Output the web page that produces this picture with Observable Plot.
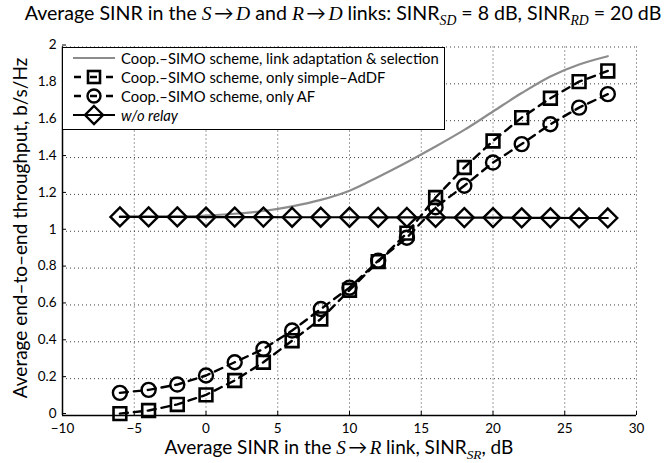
<!DOCTYPE html>
<html><head><meta charset="utf-8">
<script src="https://cdn.jsdelivr.net/npm/d3@7"></script>
<script src="https://cdn.jsdelivr.net/npm/@observablehq/plot@0.6"></script>
<style>
body{margin:0;background:#fff;}
#wrap{position:relative;width:672px;height:463px;font-family:Lato,"Noto Sans",sans-serif;color:#000;overflow:hidden;}
#wrap > svg{position:absolute;left:0;top:0;}
.ttl{position:absolute;left:0;width:672px;top:1px;text-align:center;font-size:19.6px;white-space:nowrap;padding-left:14px;box-sizing:border-box;}
.xl{position:absolute;left:0;width:678px;top:438px;text-align:center;font-size:19px;line-height:18px;white-space:nowrap;}
.m{font-family:"Liberation Serif",serif;font-style:italic;}
sub{font-size:70%;vertical-align:-0.35em;line-height:0;}
.leg{position:absolute;left:62px;top:47px;width:383px;height:83px;border:1px solid #000;background:#fff;box-sizing:border-box;font-size:14.8px;padding-top:1px;}
.row{display:flex;align-items:center;height:18.8px;}
.row svg{margin-left:8px;margin-right:4px;}
</style></head><body><div id="wrap"></div>
<script>
const snr = [-6,-4,-2,0,2,4,6,8,10,12,14,16,18,20,22,24,26,28];
const adaptive = [1.08,1.08,1.08,1.085,1.095,1.11,1.135,1.17,1.22,1.295,1.375,1.46,1.55,1.65,1.75,1.84,1.905,1.95];
const addf = [0.01,0.027,0.06,0.112,0.19,0.289,0.406,0.524,0.68,0.835,0.99,1.183,1.346,1.49,1.617,1.722,1.812,1.87];
const af = [0.123,0.139,0.168,0.217,0.289,0.361,0.461,0.578,0.694,0.84,0.965,1.13,1.247,1.373,1.473,1.581,1.671,1.744];
const noRelay = [1.078,1.078,1.078,1.077,1.077,1.077,1.076,1.076,1.076,1.075,1.075,1.075,1.074,1.074,1.073,1.073,1.072,1.072];
const xTicks = [-10,-5,0,5,10,15,20,25,30];
const yTicks = [0,0.2,0.4,0.6,0.8,1,1.2,1.4,1.6,1.8,2];
const legendLabels = ["Coop.\u2013SIMO scheme, link adaptation & selection","Coop.\u2013SIMO scheme, only simple\u2013AdDF","Coop.\u2013SIMO scheme, only AF","w/o relay"];
const yLabel = "Average end\u2013to\u2013end throughput, b/s/Hz";

const rows = ys => snr.map((x,i)=>({x, y: ys[i]}));
const dashed = "8,6";
const plot = Plot.plot({
  width: 672, height: 463,
  marginTop: 46.5, marginBottom: 48, marginLeft: 62, marginRight: 36,
  style: {fontFamily: 'Lato,"Noto Sans",sans-serif', fontSize: "13px", color: "#000", background: "transparent"},
  x: {domain: [-10,30]},
  y: {domain: [0,2]},
  marks: [
    Plot.gridX(xTicks, {stroke: "#000", strokeOpacity: 0.75, strokeDasharray: "1,3"}),
    Plot.gridY(yTicks, {stroke: "#000", strokeOpacity: 0.75, strokeDasharray: "1,3"}),
    Plot.axisX({ticks: xTicks, tickSize: -4, tickPadding: 12, tickFormat: d => String(d).replace("-", "\u2212"), label: null, fontSize: 13.5}),
    Plot.axisY({ticks: yTicks, tickSize: -4, tickPadding: 10, dy: -2, tickFormat: d => String(d), label: null, fontSize: 13.5}),
    Plot.ruleX([-10], {stroke: "#000", strokeWidth: 1.5}),
    Plot.ruleY([0], {stroke: "#000", strokeWidth: 1.5}),
    Plot.line(rows(adaptive), {x: "x", y: "y", stroke: "#8c8c8c", strokeWidth: 2.2, curve: "monotone-x"}),
    Plot.line(rows(noRelay), {x: "x", y: "y", stroke: "#000", strokeWidth: 2.2}),
    Plot.dot(rows(noRelay), {x: "x", y: "y", symbol: "diamond2", r: 8.5, stroke: "#000", strokeWidth: 2.4, fill: "none"}),
    Plot.line(rows(af), {x: "x", y: "y", stroke: "#000", strokeWidth: 2.4, strokeDasharray: dashed}),
    Plot.dot(rows(af), {x: "x", y: "y", symbol: "circle", r: 7, stroke: "#000", strokeWidth: 2.4, fill: "none"}),
    Plot.line(rows(addf), {x: "x", y: "y", stroke: "#000", strokeWidth: 2.4, strokeDasharray: dashed}),
    Plot.dot(rows(addf), {x: "x", y: "y", symbol: "square", r: 7.2, stroke: "#000", strokeWidth: 2.6, fill: "none"})
  ]
});
const wrap = document.getElementById("wrap");
wrap.appendChild(plot);

// y-axis title as SVG text in the plot's svg
d3.select(plot).append("text")
  .attr("transform", "translate(27,228) rotate(-90)")
  .attr("text-anchor", "middle")
  .attr("font-size", 19)
  .attr("fill", "#000")
  .text(yLabel);

const t = document.createElement("div"); t.className = "ttl";
t.innerHTML = 'Average SINR in the <span class="m">S</span>\u2009\u2192\u2009<span class="m">D</span> and <span class="m">R</span>\u2009\u2192\u2009<span class="m">D</span> links: SINR<sub class="m">SD</sub> = 8 dB, SINR<sub class="m">RD</sub> = 20 dB';
wrap.appendChild(t);
const xl = document.createElement("div"); xl.className = "xl";
xl.innerHTML = 'Average SINR in the <span class="m">S</span>\u2009\u2192\u2009<span class="m">R</span> link, SINR<sub class="m">SR</sub>, dB';
wrap.appendChild(xl);

// legend
const leg = document.createElement("div"); leg.className = "leg";
const sym = [
  '<line x1="2" x2="44" y1="8" y2="8" stroke="#8c8c8c" stroke-width="2.2"/>',
  '<line x1="2" x2="44" y1="8" y2="8" stroke="#000" stroke-width="2.4" stroke-dasharray="7,9" stroke-dashoffset="-1"/><rect x="17" y="2" width="12" height="12" fill="none" stroke="#000" stroke-width="2.6"/>',
  '<line x1="2" x2="44" y1="8" y2="8" stroke="#000" stroke-width="2.4" stroke-dasharray="7,9" stroke-dashoffset="-1"/><circle cx="23" cy="8" r="6.5" fill="none" stroke="#000" stroke-width="2.4"/>',
  '<line x1="2" x2="44" y1="8" y2="8" stroke="#000" stroke-width="2.2"/><path d="M23,-1L32,8L23,17L14,8Z" fill="none" stroke="#000" stroke-width="2.4"/>'
];
legendLabels.forEach((lab,i) => {
  const r = document.createElement("div"); r.className = "row";
  r.innerHTML = `<svg width="46" height="16" style="overflow:visible">${sym[i]}</svg><span${i===3?' style="font-style:italic"':''}></span>`;
  r.querySelector("span").textContent = lab;
  leg.appendChild(r);
});
wrap.appendChild(leg);
</script></body></html>
